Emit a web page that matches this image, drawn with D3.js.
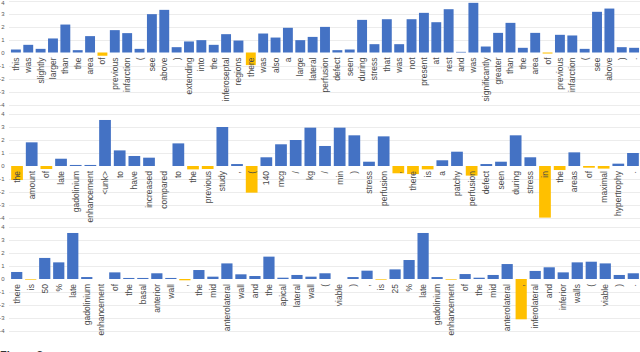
<!DOCTYPE html>
<meta charset="utf-8">
<style>
body { margin: 0; background: #fff; }
text { font-family: "Liberation Sans", Arial, sans-serif; }
.word { font-size: 8.5px; fill: #4a4a4a; }
.tick { font-size: 6px; fill: #595959; text-anchor: end; }
.grid { stroke: #ececec; stroke-width: 1px; }
</style>
<svg width="640" height="352"></svg>
<script src="https://d3js.org/d3.v7.min.js"></script>
<script>

// sentence 1
var words1 = ["this","was","slightly","larger","than","the","area","of","previous","infarction","(","see","above",")","extending","into","the","inferoseptal","regions","there","was","also","a","large","lateral","perfusion","defect","seen","during","stress","that","was","not","present","at","rest","and","was","significantly","greater","than","the","area","of","previous","infarction","(","see","above",")","."];
var values1 = [0.23,0.59,0.28,1.08,2.15,0.18,1.26,-0.25,1.72,1.49,0.28,2.95,3.28,0.41,0.85,0.95,0.59,1.41,0.92,-0.97,1.46,1.15,1.9,0.95,1.2,1.97,0.18,0.23,2.51,0.64,2.56,0.64,2.56,3.05,2.33,3.33,0.05,3.82,0.46,1.51,2.28,0.36,1.51,-0.08,1.36,1.31,0.28,3.13,3.38,0.41,0.36];

// sentence 2
var words2 = ["the","amount","of","late","gadolinium","enhancement","<unk>","to","have","increased","compared","to","the","previous","study",",","(","140","mcg","/","kg","/","min",")","stress","perfusion",",","there","is","a","patchy","perfusion","defect","seen","during","stress","in","the","areas","of","maximal","hypertrophy","."];
var values2 = [-1.08,1.82,-0.23,0.56,0.08,0.08,3.54,1.2,0.77,0.64,0,1.74,-0.26,-0.23,3.0,0.15,-2.05,0.67,1.67,2.0,2.95,1.54,2.95,2.36,0.33,2.28,-0.56,-0.62,-0.26,0.44,1.1,-0.74,0.15,0.33,2.36,0.67,-3.97,-0.31,1.05,-0.13,-0.2,0.18,1.0];

// sentence 3
var words3 = ["there","is","50","%","late","gadolinium","enhancement","of","the","basal","anterior","wall",",","the","mid","anterolateral","wall","and","the","apical","lateral","wall","(","viable",")",",","is","25","%","late","gadolinium","enhancement","of","the","mid","anterolateral",",","inferolateral","and","inferior","walls","(","viable",")","."];
var values3 = [0.54,-0.05,1.62,1.28,3.54,0.15,0,0.51,0.08,0.08,0.44,0.08,-0.1,0.69,0.18,1.2,0.36,0.23,1.72,0.1,0.31,0.18,0.44,0,0.15,0.64,-0.05,0.74,1.46,3.54,0.15,-0.05,0.38,0.1,0.31,1.15,-3.1,0.62,0.9,0.51,1.28,1.33,1.2,0.31,0.44];

var yTicks = [4,3,2,1,0,-1,-2,-3,-4];

var svg = d3.select("svg");

var panels = [
  {words: words1, values: values1, top: 0.5},
  {words: words2, values: values2, top: 114},
  {words: words3, values: values3, top: 227}
];

panels.forEach(function(p, pi) {
  var data = p.words.map(function(w, i) { return {word: w, value: p.values[i], i: i}; });

  var x = d3.scaleBand()
      .domain(d3.range(data.length))
      .range([9.7, 640.3])
      .paddingInner(0.2)
      .paddingOuter(0.1);

  var y = d3.scaleLinear()
      .domain([4, -4])
      .range([p.top, p.top + 104]);

  var g = svg.append("g").attr("class", "panel");

  g.selectAll("line.grid")
    .data(yTicks.filter(function(t) { return t !== 0; }))
    .enter().append("line")
      .attr("class", "grid")
      .attr("x1", 9)
      .attr("x2", 640)
      .attr("y1", function(d) { return Math.round(y(d)) + 0.5; })
      .attr("y2", function(d) { return Math.round(y(d)) + 0.5; });

  g.selectAll("text.tick")
    .data(yTicks)
    .enter().append("text")
      .attr("class", "tick")
      .attr("x", 4.5)
      .attr("y", function(d) { return Math.max(y(d), 2.5); })
      .attr("dy", "0.35em")
      .text(function(d) { return d; });

  g.selectAll("rect")
    .data(data)
    .enter().append("rect")
      .attr("x", function(d) { return x(d.i); })
      .attr("width", x.bandwidth())
      .attr("y", function(d) { return y(Math.max(0, d.value)); })
      .attr("height", function(d) { return Math.abs(y(d.value) - y(0)); })
      .style("fill", function(d) { return d.value < 0 ? "#ffc000" : "#4472c4"; });

  g.selectAll("text.word")
    .data(data)
    .enter().append("text")
      .attr("class", "word")
      .attr("text-anchor", "end")
      .attr("dy", "0.35em")
      .attr("transform", function(d) {
        return "translate(" + (x(d.i) + x.bandwidth() / 2) + "," + (y(0) + 5) + ") rotate(-90)";
      })
      .text(function(d) { return d.word; });
});

// caption, mostly cut off by the frame
svg.append("text")
    .attr("x", 0)
    .attr("y", 359)
    .style("font-size", "11px")
    .style("font-weight", "bold")
    .style("fill", "#333")
    .text("Figure 3:");

</script>
